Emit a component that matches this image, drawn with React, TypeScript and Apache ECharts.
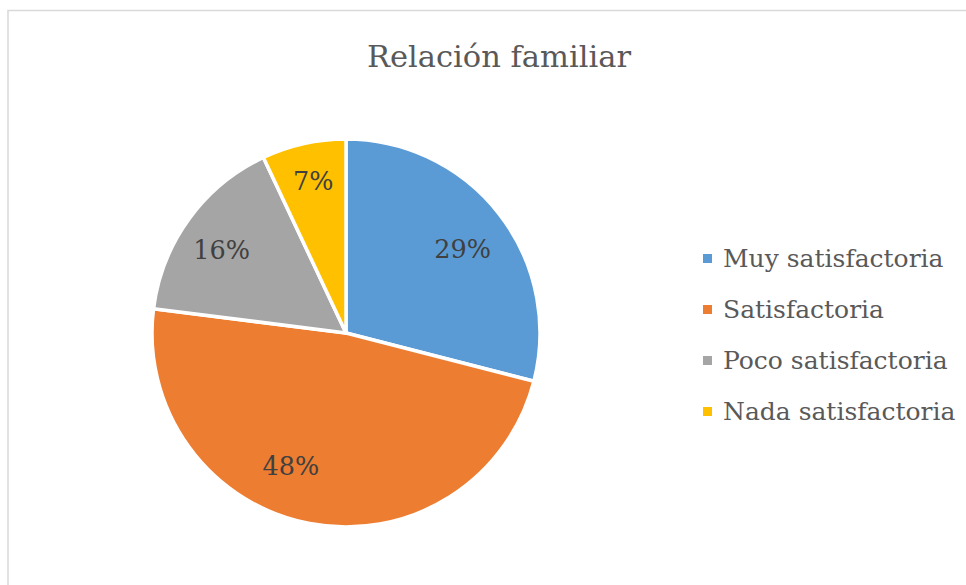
import React, { useEffect, useRef } from "react";
import * as echarts from "echarts";

const categories = ["Muy satisfactoria", "Satisfactoria", "Poco satisfactoria", "Nada satisfactoria"];
const values = [29, 48, 16, 7];
const colors = ["#5B9BD5", "#ED7D31", "#A5A5A5", "#FFC000"];
const titleText = "Relación familiar";
// fine-tuning of the data-label placement (Excel "best fit")
const labelOffsets = [[-2, 8], [-27, -14], [-3, 5], [0, -6]];

export default function App() {
  const ref = useRef<HTMLDivElement>(null);
  useEffect(() => {
    if (!ref.current) return;
    const chart = echarts.init(ref.current, undefined, { renderer: "svg" });
    const data = categories.map((name, i) => ({ name, value: values[i], itemStyle: { color: colors[i] } }));
    const font = "DejaVu Serif";
    chart.setOption({
      animation: false,
      backgroundColor: "#ffffff",
      title: {
        text: titleText,
        left: 494,
        top: 36,
        textAlign: "center",
        textStyle: { fontFamily: font, fontSize: 30.5, fontWeight: "normal", color: "#595959" },
      },
      legend: {
        orient: "vertical",
        left: 701,
        top: 243,
        padding: 0,
        icon: "rect",
        itemWidth: 11,
        itemHeight: 11,
        itemGap: 20,
        data: categories,
        textStyle: { fontFamily: font, fontSize: 25, color: "#595959", lineHeight: 31, padding: [0, 0, 0, 5] },
      },
      graphic: [
        {
          type: "rect",
          shape: { x: 8, y: 10.5, width: 1000, height: 700 },
          style: { fill: "none", stroke: "#d9d9d9", lineWidth: 1.5 },
          silent: true,
        },
      ],
      series: [
        {
          type: "pie",
          center: [346, 333],
          radius: [0, 194],
          startAngle: 90,
          clockwise: true,
          label: { show: false },
          labelLine: { show: false },
          itemStyle: { borderColor: "#ffffff", borderWidth: 3.5 },
          data,
          silent: true,
        },
        {
          type: "pie",
          center: [346, 333],
          radius: [100, 194],
          startAngle: 90,
          clockwise: true,
          silent: true,
          itemStyle: { color: "transparent", borderWidth: 0 },
          label: {
            show: true,
            position: "inside",
            formatter: (p: any) => p.value + "%",
            fontFamily: font,
            fontSize: 25.5,
            color: "#404040",
          },
          labelLine: { show: false },
          data: categories.map((name, i) => ({
            name,
            value: values[i],
            itemStyle: { color: "transparent" },
            label: { offset: labelOffsets[i] },
          })),
        },
      ],
    });
    return () => chart.dispose();
  }, []);
  return <div ref={ref} style={{ position: "absolute", left: 0, top: 0, width: 966, height: 585 }} />;
}
